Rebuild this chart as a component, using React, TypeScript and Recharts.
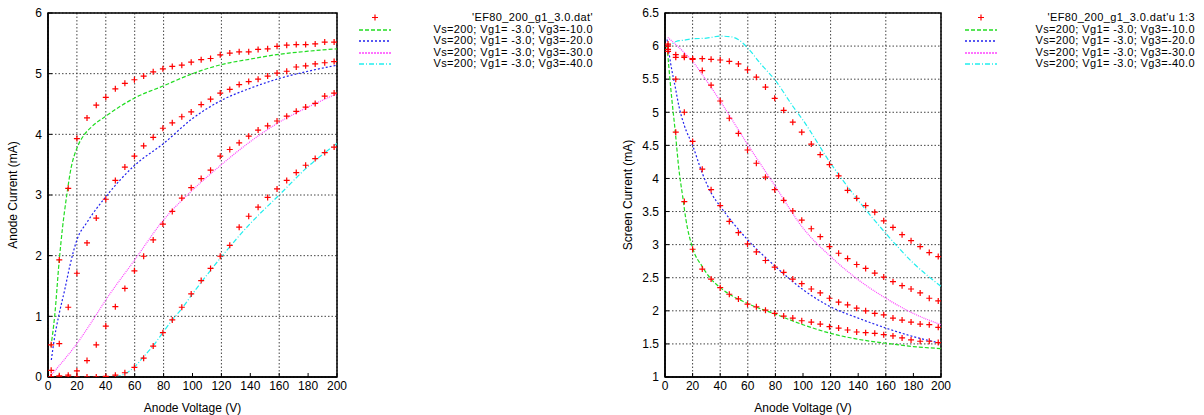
import React from "react";
import {
  ComposedChart,
  Line,
  Scatter,
  XAxis,
  YAxis,
  CartesianGrid,
  ReferenceArea,
} from "recharts";

// measured anode voltages (V), same for both files
const anodeV = [
  2.2, 7.8, 14, 20, 27, 33.4, 40, 46.6, 53.2, 59.8, 66.2, 72.8, 79.5, 86, 92.6, 99.1,
  106, 112.5, 119.2, 125.8, 132.3, 138.9, 145.4, 152, 158.5, 165.2, 171.8, 178.3,
  184.9, 191.5, 198,
];

// measured anode current (mA) per Vg3
const anode10 = [
  0.53, 1.93, 3.11, 3.93, 4.27, 4.48, 4.61, 4.75, 4.84, 4.9, 4.96, 5.03, 5.08, 5.12, 5.14,
  5.19, 5.23, 5.25, 5.31, 5.34, 5.36, 5.36, 5.4, 5.41, 5.45, 5.47, 5.48, 5.48, 5.49, 5.52, 5.52,
];
const anode20 = [
  0.11, 0.55, 1.15, 1.71, 2.21, 2.62, 2.93, 3.24, 3.46, 3.64, 3.81, 3.95, 4.1, 4.19, 4.29,
  4.37, 4.49, 4.58, 4.68, 4.74, 4.82, 4.87, 4.91, 4.96, 5.01, 5.04, 5.11, 5.13, 5.16, 5.18, 5.2,
];
const anode30 = [
  0, 0.02, 0.03, 0.1, 0.27, 0.53, 0.84, 1.16, 1.46, 1.75, 1.99, 2.26, 2.52, 2.73, 2.95,
  3.12, 3.27, 3.41, 3.64, 3.75, 3.86, 3.97, 4.07, 4.14, 4.22, 4.3, 4.38, 4.45, 4.51, 4.63, 4.68,
];
const anode40 = [
  0, 0, 0, 0, 0, 0, 0.01, 0.03, 0.07, 0.16, 0.31, 0.51, 0.73, 0.94, 1.15, 1.37, 1.59, 1.79,
  1.99, 2.17, 2.47, 2.65, 2.8, 2.96, 3.1, 3.24, 3.37, 3.49, 3.6, 3.7, 3.79,
];

// measured screen current (mA) per Vg3
const screen10 = [
  5.95, 4.7, 3.65, 2.93, 2.63, 2.48, 2.35, 2.25, 2.18, 2.1, 2.06, 2.01, 1.96, 1.92, 1.89,
  1.85, 1.83, 1.8, 1.76, 1.74, 1.71, 1.68, 1.67, 1.66, 1.64, 1.62, 1.59, 1.56, 1.54, 1.54, 1.52,
];
const screen20 = [
  6.0, 5.5, 5.0, 4.56, 4.14, 3.83, 3.59, 3.35, 3.18, 3.01, 2.89, 2.76, 2.66, 2.58, 2.48,
  2.41, 2.33, 2.27, 2.19, 2.13, 2.09, 2.04, 2.0, 1.96, 1.94, 1.89, 1.86, 1.83, 1.8, 1.79, 1.75,
];
const screen30 = [
  6.03, 5.83, 5.83, 5.8, 5.63, 5.41, 5.17, 4.91, 4.68, 4.43, 4.23, 4.02, 3.83, 3.67, 3.51,
  3.37, 3.24, 3.12, 2.97, 2.87, 2.79, 2.7, 2.64, 2.57, 2.51, 2.44, 2.38, 2.33, 2.27, 2.19, 2.15,
];
const screen40 = [
  5.92, 5.87, 5.85, 5.81, 5.81, 5.8, 5.79, 5.77, 5.73, 5.64, 5.53, 5.38, 5.21, 5.03, 4.85,
  4.7, 4.52, 4.36, 4.21, 4.04, 3.82, 3.7, 3.59, 3.49, 3.36, 3.26, 3.15, 3.06, 2.97, 2.88, 2.82,
];

// model curves [V, mA]
const modelAnode10 = [
  [2, 0.5], [4.6, 1.0], [7.8, 1.93], [10, 2.45], [13, 3.0], [16, 3.45], [20, 3.77], [25, 3.99],
  [30, 4.12], [40, 4.3], [60, 4.6], [80, 4.8], [100, 5.0], [120, 5.15], [140, 5.24], [160, 5.32],
  [180, 5.37], [200, 5.41],
];
const modelAnode20 = [
  [2.3, 0.28], [4.6, 0.66], [7.8, 1.05], [11.5, 1.43], [15, 1.82], [20, 2.26], [27, 2.55],
  [40, 2.97], [60, 3.49], [80, 3.85], [100, 4.26], [120, 4.56], [140, 4.76], [160, 4.92],
  [180, 5.04], [200, 5.14],
];
const modelAnode30 = [
  [1, 0], [10, 0.25], [20, 0.55], [30, 0.9], [40, 1.27], [60, 1.93], [80, 2.59], [100, 3.08],
  [120, 3.5], [140, 3.88], [160, 4.2], [180, 4.45], [200, 4.67],
];
const modelAnode40 = [
  [47, 0], [53, 0.05], [60, 0.17], [66, 0.33], [73, 0.52], [80, 0.75], [86, 0.94], [93, 1.14],
  [100, 1.37], [120, 1.98], [140, 2.53], [160, 3.0], [180, 3.47], [200, 3.85],
];
const modelScreen10 = [
  [1.5, 6.0], [4, 5.4], [7.7, 4.65], [10, 4.15], [12.8, 3.73], [15, 3.4], [20, 2.95], [27, 2.67],
  [33, 2.49], [40, 2.35], [60, 2.11], [80, 1.95], [100, 1.79], [120, 1.66], [140, 1.57],
  [160, 1.51], [180, 1.46], [200, 1.43],
];
const modelScreen20 = [
  [1.5, 6.1], [4, 5.75], [7.7, 5.35], [10, 5.1], [14, 4.8], [20, 4.5], [27, 4.08], [34, 3.76],
  [40, 3.58], [60, 3.07], [80, 2.67], [100, 2.32], [120, 2.06], [140, 1.89], [160, 1.74],
  [180, 1.61], [200, 1.51],
];
const modelScreen30 = [
  [2, 6.13], [8, 6.02], [14, 5.9], [20, 5.77], [27, 5.57], [40, 5.17], [60, 4.51], [80, 3.88],
  [100, 3.25], [120, 2.82], [140, 2.47], [160, 2.19], [180, 1.96], [200, 1.79],
];
const modelScreen40 = [
  [1.5, 5.97], [5, 6.03], [8, 6.07], [14, 6.09], [20, 6.11], [30, 6.12], [40, 6.15], [48, 6.14],
  [53, 6.1], [60, 5.97], [69, 5.74], [80, 5.48], [93, 5.08], [100, 4.88], [120, 4.23],
  [140, 3.67], [160, 3.17], [180, 2.72], [200, 2.37],
];

const xTicks = [0, 20, 40, 60, 80, 100, 120, 140, 160, 180, 200];
const anodeTicks = [0, 1, 2, 3, 4, 5, 6];
const screenTicks = [1, 1.5, 2, 2.5, 3, 3.5, 4, 4.5, 5, 5.5, 6, 6.5];
const curveNames = [
  "Vs=200; Vg1= -3.0; Vg3=-10.0",
  "Vs=200; Vg1= -3.0; Vg3=-20.0",
  "Vs=200; Vg1= -3.0; Vg3=-30.0",
  "Vs=200; Vg1= -3.0; Vg3=-40.0",
];

const FONT = "'Liberation Sans', Arial, Helvetica, sans-serif";
const curveStyles = [
  { color: "#22dd22", dash: "4 2", key: "4 2" },
  { color: "#2222ee", dash: "2 2", key: "2 2" },
  { color: "#ff44ff", dash: "1 1", key: "2 1" },
  { color: "#22eeee", dash: "5 2 1 2", key: "5 2 1 2" },
];

const toPoints = (ys: number[]) => ys.map((i, k) => ({ v: anodeV[k], i }));
const toCurve = (pts: number[][]) => pts.map(([v, i]) => ({ v, i }));

const Cross = (props: any) => {
  const { cx, cy } = props;
  if (cx == null || cy == null) return null;
  return (
    <path
      d={`M${cx - 3},${cy}h6M${cx},${cy - 3}v6`}
      stroke="#ff0000"
      strokeWidth={1.2}
      fill="none"
    />
  );
};

const Legend = ({ title, left, width }: any) => (
  <div
    style={{
      position: "absolute",
      left,
      top: 12,
      width,
      fontFamily: FONT,
      fontSize: 11,
      letterSpacing: "0.38px",
      lineHeight: "11.5px",
    }}
  >
    {[title, ...curveNames].map((name, idx) => (
      <div key={name} style={{ position: "relative", height: 11.5, textAlign: "right" }}>
        <svg width={34} height={11.5} style={{ position: "absolute", left: 2, top: 0 }}>
          {idx === 0 ? (
            <path d="M13,5.5h6M16,2.5v6" stroke="#ff0000" strokeWidth={1.2} />
          ) : (
            <line
              x1={0}
              x2={32}
              y1={6}
              y2={6}
              stroke={curveStyles[idx - 1].color}
              strokeWidth={1.5}
              strokeDasharray={curveStyles[idx - 1].key}
            />
          )}
        </svg>
        <span style={{ whiteSpace: "nowrap" }}>{name}</span>
      </div>
    ))}
  </div>
);

const Panel = ({
  left,
  width,
  yWidth,
  plotWidth,
  yDomain,
  yTicks,
  yTitle,
  points,
  curves,
  legendTitle,
  legendLeft,
  legendWidth,
  titleOffset,
}: any) => (
  <div style={{ position: "absolute", left, top: 0, width, height: 415 }}>
    <ComposedChart
      width={width}
      height={415}
      margin={{ top: 13, right: width - yWidth - plotWidth, bottom: 0, left: 0 }}
      style={{ fontFamily: FONT }}
    >
      <CartesianGrid stroke="#444" strokeDasharray="1.5 2" />
      <XAxis
        type="number"
        dataKey="v"
        domain={[0, 200]}
        ticks={xTicks}
        allowDataOverflow
        height={38}
        tickSize={-4}
        tickMargin={8}
        tickLine={{ stroke: "#000" }}
        axisLine={{ stroke: "#000", strokeWidth: 1.5 }}
        tick={{ fill: "#000", fontSize: 12 }}
        label={{ value: "Anode Voltage (V)", position: "insideBottom", offset: 3, fill: "#000", fontSize: 12 }}
      />
      <YAxis
        type="number"
        dataKey="i"
        domain={yDomain}
        ticks={yTicks}
        allowDataOverflow
        width={yWidth}
        tickSize={-4}
        tickMargin={10}
        tickLine={{ stroke: "#000" }}
        axisLine={{ stroke: "#000", strokeWidth: 1.5 }}
        tick={{ fill: "#000", fontSize: 12 }}
        label={{
          value: yTitle,
          angle: -90,
          position: "insideLeft",
          offset: titleOffset,
          fill: "#000",
          fontSize: 12,
          style: { textAnchor: "middle" },
        }}
      />
      <ReferenceArea
        x1={0}
        x2={200}
        y1={yDomain[0]}
        y2={yDomain[1]}
        fill="none"
        stroke="#000"
        strokeWidth={1.5}
        ifOverflow="visible"
      />
      {curves.map((c: number[][], idx: number) => (
        <Line
          key={"c" + idx}
          data={toCurve(c)}
          dataKey="i"
          type="monotone"
          stroke={curveStyles[idx].color}
          strokeWidth={1.2}
          strokeDasharray={curveStyles[idx].dash}
          dot={false}
          activeDot={false}
          isAnimationActive={false}
        />
      ))}
      {points.map((s: number[], idx: number) => (
        <Scatter
          key={"p" + idx}
          data={toPoints(s)}
          dataKey="i"
          shape={Cross}
          isAnimationActive={false}
        />
      ))}
    </ComposedChart>
    <Legend title={legendTitle} left={legendLeft} width={legendWidth} />
  </div>
);

export default function App() {
  return (
    <div style={{ position: "absolute", left: 0, top: 0, width: 1204, height: 415, background: "#fff" }}>
      <Panel
        left={0}
        width={600}
        yWidth={48}
        plotWidth={289}
        yDomain={[0, 6]}
        yTicks={anodeTicks}
        yTitle="Anode Current (mA)"
        points={[anode10, anode20, anode30, anode40]}
        curves={[modelAnode10, modelAnode20, modelAnode30, modelAnode40]}
        legendTitle="'EF80_200_g1_3.0.dat'"
        legendLeft={357}
        legendWidth={236}
        titleOffset={13}
      />
      <Panel
        left={602}
        width={602}
        yWidth={63}
        plotWidth={276}
        yDomain={[1, 6.5]}
        yTicks={screenTicks}
        yTitle="Screen Current (mA)"
        points={[screen10, screen20, screen30, screen40]}
        curves={[modelScreen10, modelScreen20, modelScreen30, modelScreen40]}
        legendTitle="'EF80_200_g1_3.0.dat'u 1:3"
        legendLeft={361}
        legendWidth={232}
        titleOffset={26}
      />
    </div>
  );
}
